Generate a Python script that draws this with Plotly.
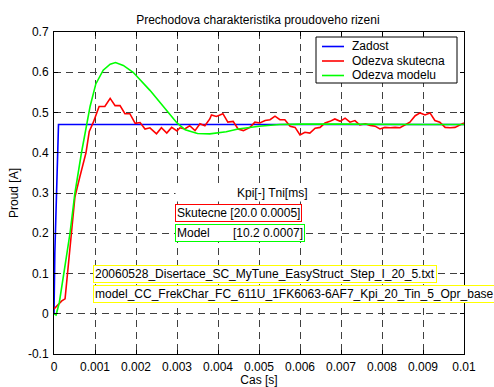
import plotly.graph_objects as go

# ---- data ----
t_zadost = [0.0, 0.00002, 0.00011, 0.01]
i_zadost = [0.0, 0.15, 0.47, 0.47]

t_skut = [0.0, 0.00019, 0.00027, 0.00035, 0.00042, 0.00051, 0.00063, 0.00072, 0.00078, 0.00086,
          0.00096, 0.0011, 0.00124, 0.00137, 0.00149, 0.00161, 0.00173, 0.00185, 0.00198, 0.0021,
          0.00222, 0.00234, 0.0025, 0.00262, 0.00275, 0.00287, 0.003, 0.00307, 0.00319, 0.00331,
          0.00344, 0.00356, 0.00368, 0.0038, 0.00384, 0.00396, 0.00412, 0.00424, 0.00437, 0.00449,
          0.00462, 0.00478, 0.0049, 0.00502, 0.00515, 0.00527, 0.00539, 0.00551, 0.00563, 0.00576,
          0.00588, 0.006, 0.00612, 0.00624, 0.00637, 0.00649, 0.00661, 0.00673, 0.00685, 0.00698,
          0.0071, 0.00722, 0.00734, 0.00746, 0.00759, 0.00771, 0.00783, 0.00795, 0.00807, 0.0082,
          0.00832, 0.00844, 0.00856, 0.00868, 0.00881, 0.00893, 0.00905, 0.00917, 0.00929, 0.00941,
          0.00954, 0.00966, 0.00978, 0.0099, 0.01]
i_skut = [0.012, 0.032, 0.037, 0.12, 0.2, 0.29, 0.34, 0.38, 0.40, 0.453,
          0.476, 0.515, 0.515, 0.535, 0.517, 0.517, 0.497, 0.497, 0.473, 0.475,
          0.459, 0.462, 0.447, 0.462, 0.449, 0.463, 0.454, 0.462, 0.459, 0.467,
          0.455, 0.472, 0.467, 0.484, 0.494, 0.49, 0.497, 0.476, 0.478, 0.459,
          0.455, 0.463, 0.476, 0.474, 0.48, 0.482, 0.491, 0.482, 0.482, 0.466,
          0.463, 0.444, 0.451, 0.449, 0.461, 0.463, 0.474, 0.478, 0.484, 0.478,
          0.486, 0.476, 0.48, 0.469, 0.472, 0.468, 0.466, 0.459, 0.463, 0.462,
          0.463, 0.462, 0.468, 0.476, 0.492, 0.499, 0.494, 0.499, 0.48, 0.476,
          0.463, 0.462, 0.463, 0.469, 0.474]

t_model = [0.0, 0.00005, 0.00013, 0.0002, 0.0003, 0.00039, 0.00051, 0.00067, 0.00088, 0.00102,
           0.0012, 0.00137, 0.0015, 0.00169, 0.00193, 0.00234, 0.00275, 0.003, 0.0032, 0.0035,
           0.0038, 0.0042, 0.00449, 0.005, 0.0055, 0.006, 0.007, 0.008, 0.009, 0.01]
i_model = [0.0, -0.003, 0.028, 0.07, 0.14, 0.2, 0.3, 0.4, 0.515, 0.571,
           0.605, 0.62, 0.624, 0.617, 0.6, 0.555, 0.505, 0.474, 0.457, 0.448,
           0.447, 0.452, 0.459, 0.466, 0.47, 0.471, 0.471, 0.47, 0.47, 0.47]

# marker points on the curves
skut_sq_t = [0.00027, 0.00086]
skut_sq_i = [0.037, 0.453]
skut_x_t = [0.00137]
skut_x_i = [0.535]
model_sq_t = [0.00013, 0.00088]
model_sq_i = [0.028, 0.515]
model_x_t = [0.0015]
model_x_i = [0.624]
model_o_t = [0.00449]
model_o_i = [0.459]
model_v_t = [0.00005]
model_v_i = [-0.003]

x_ticks = [0, 0.001, 0.002, 0.003, 0.004, 0.005, 0.006, 0.007, 0.008, 0.009, 0.01]
x_tick_text = ["0", "0.001", "0.002", "0.003", "0.004", "0.005", "0.006", "0.007", "0.008", "0.009", "0.01"]
y_ticks = [-0.1, 0, 0.1, 0.2, 0.3, 0.4, 0.5, 0.6, 0.7]
y_tick_text = ["-0.1", "0", "0.1", "0.2", "0.3", "0.4", "0.5", "0.6", "0.7"]

series_names = ["Zadost", "Odezva skutecna", "Odezva modelu"]

BLUE = "#0000ff"
RED = "#ff0000"
GREEN = "#00ff00"
series_colors = [BLUE, RED, GREEN]
FONT = "Liberation Sans, Arial, Helvetica, sans-serif"
LW = 1.6
FS = 12

W, H = 494, 387
ML, MR, MT, MB = 54, 30, 32, 33
PW, PH = W - ML - MR, H - MT - MB


def px_x(p):
    return (p - ML) / PW


def px_y(p):
    return (H - MB - p) / PH


fig = go.Figure()
fig.add_trace(go.Scatter(x=t_zadost, y=i_zadost, mode="lines", name=series_names[0],
                         line=dict(color=BLUE, width=LW)))
fig.add_trace(go.Scatter(x=t_skut, y=i_skut, mode="lines", name=series_names[1],
                         line=dict(color=RED, width=LW)))
fig.add_trace(go.Scatter(x=t_model, y=i_model, mode="lines", name=series_names[2],
                         line=dict(color=GREEN, width=LW)))


def mk(x, y, color, symbol, size=7):
    fig.add_trace(go.Scatter(x=x, y=y, mode="markers", showlegend=False, hoverinfo="skip",
                             marker=dict(symbol=symbol, size=size, color="rgba(0,0,0,0)",
                                         line=dict(color=color, width=1.2))))


mk(skut_sq_t, skut_sq_i, RED, "square-open")
mk(skut_x_t, skut_x_i, RED, "x-thin-open", 6)
mk(model_sq_t, model_sq_i, GREEN, "square-open")
mk(model_x_t, model_x_i, GREEN, "x-thin-open", 6)
mk(model_o_t, model_o_i, GREEN, "circle-open")
mk(model_v_t, model_v_i, GREEN, "triangle-down-open", 6)

# text annotations
fig.add_annotation(x=0.003, y=0.3, text="&nbsp;" * 18 + "Kpi[-] Tni[ms]&nbsp;&nbsp;&nbsp;",
                   showarrow=False, xanchor="left", yanchor="middle", xshift=-2, bgcolor="white",
                   borderpad=1, font=dict(size=FS, color="black"))
fig.add_annotation(x=0.003, y=0.25, text="Skutecne [20.0 0.0005]", showarrow=False,
                   xanchor="left", yanchor="middle", xshift=-2, bgcolor="white",
                   bordercolor=RED, borderwidth=1, borderpad=1, font=dict(size=FS, color="black"))
fig.add_annotation(x=0.003, y=0.2, text="Model" + "&nbsp;" * 7 + "[10.2 0.0007]",
                   showarrow=False, xanchor="left", yanchor="middle", xshift=-2, bgcolor="white",
                   bordercolor=GREEN, borderwidth=1, borderpad=1, font=dict(size=FS, color="black"))
fig.add_annotation(x=0.001, y=0.1, text="20060528_Disertace_SC_MyTune_EasyStruct_Step_I_20_5.txt",
                   showarrow=False, xanchor="left", yanchor="middle", xshift=-2, bgcolor="white",
                   bordercolor="#ffff00", borderwidth=1, borderpad=1, font=dict(size=FS, color="black"))
fig.add_annotation(x=0.001, y=0.05, text="model_CC_FrekChar_FC_611U_1FK6063-6AF7_Kpi_20_Tin_5_Opr_base",
                   showarrow=False, xanchor="left", yanchor="middle", xshift=-2, bgcolor="white",
                   bordercolor="#ffff00", borderwidth=1, borderpad=1, font=dict(size=FS, color="black"))

# legend box (drawn, MATLAB style compact)
fig.add_shape(type="rect", xref="paper", yref="paper",
              x0=px_x(316), x1=px_x(457), y0=px_y(83), y1=px_y(37),
              line=dict(color="black", width=1), fillcolor="white", layer="above")
for k, (nm, col) in enumerate(zip(series_names, series_colors)):
    yy = 46.5 + k * 14.5
    fig.add_shape(type="line", xref="paper", yref="paper",
                  x0=px_x(322), x1=px_x(344), y0=px_y(yy), y1=px_y(yy),
                  line=dict(color=col, width=LW), layer="above")
    fig.add_annotation(xref="paper", yref="paper", x=px_x(350), y=px_y(yy), text=nm,
                       showarrow=False, xanchor="left", yanchor="middle",
                       font=dict(size=FS, color="black"))

axis_common = dict(showline=True, linecolor="black", linewidth=1, mirror="ticks",
                   ticks="inside", ticklen=4, tickcolor="black", automargin=False,
                   showgrid=True, gridcolor="#404040", gridwidth=1, griddash="7px,5px",
                   zeroline=False, tickfont=dict(size=FS, color="black", family=FONT))

fig.update_xaxes(range=[0, 0.01], tickvals=x_ticks, ticktext=x_tick_text, ticklabelstandoff=2,
                 title=dict(text="Cas [s]", font=dict(size=FS, color="black"), standoff=5),
                 **axis_common)
fig.update_yaxes(range=[-0.1, 0.7], tickvals=y_ticks, ticktext=y_tick_text, ticklabelstandoff=2,
                 title=dict(text="Proud [A]", font=dict(size=FS, color="black"), standoff=6),
                 **axis_common)

fig.update_layout(
    width=W, height=H,
    margin=dict(l=ML, r=MR, t=MT, b=MB, autoexpand=False),
    paper_bgcolor="white", plot_bgcolor="white",
    font=dict(family=FONT, size=FS, color="black"),
    title=dict(text="Prechodova charakteristika proudoveho rizeni", x=0.522, xanchor="center",
               y=1 - 20 / H, yanchor="middle", font=dict(size=FS, color="black")),
    showlegend=False,
)

fig.write_html("out.html")
